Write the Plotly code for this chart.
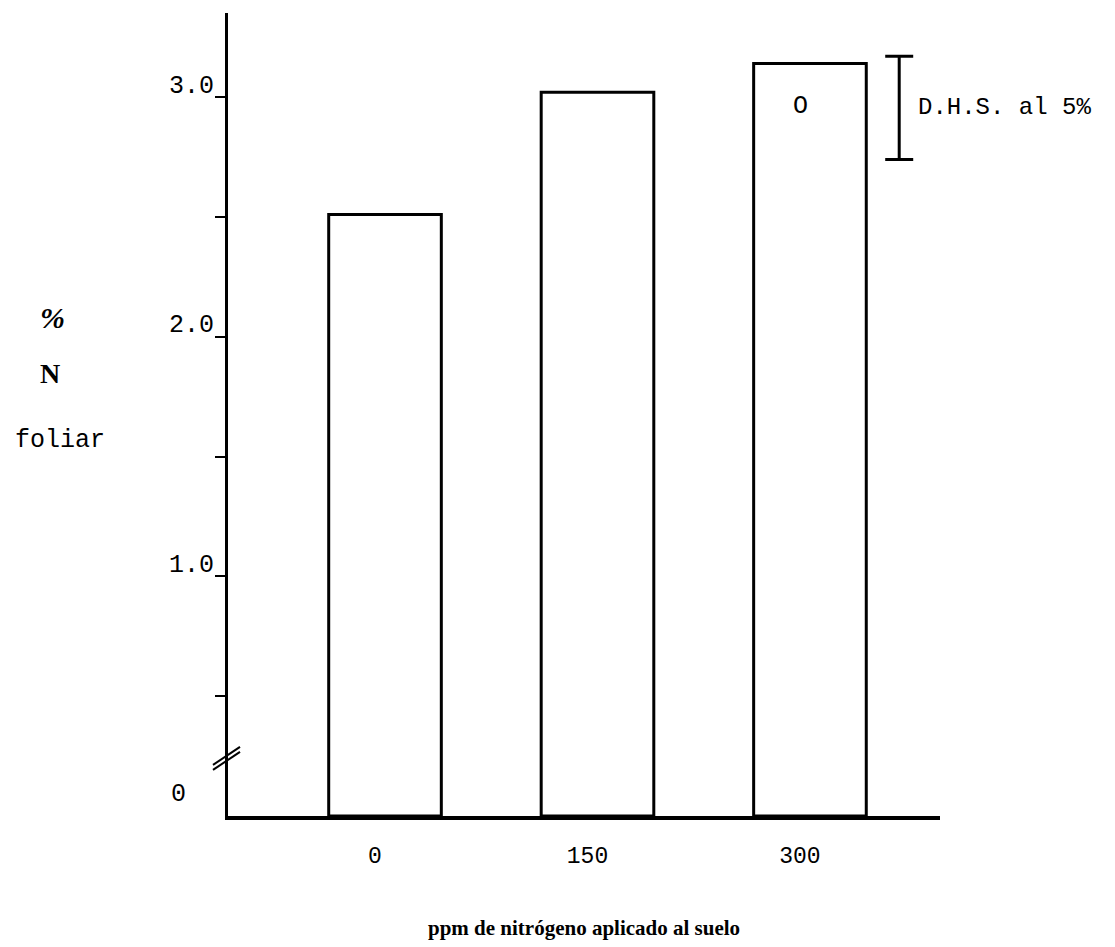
import plotly.graph_objects as go

# Data
categories = ["0", "150", "300"]
n_foliar = [2.51, 3.02, 3.14]
dhs_value = 0.43          # D.H.S. al 5%
dhs_center = 2.955
y_ticks = [0.5, 1.0, 1.5, 2.0, 2.5, 3.0]
y_ticktext = ["", "1.0", "", "2.0", "", "3.0"]

x_pos = list(range(len(categories)))
MONO = "Liberation Mono, Courier New, monospace"
SERIF = "Liberation Serif, serif"

fig = go.Figure()
fig.add_trace(go.Bar(
    x=x_pos, y=n_foliar, width=0.53,
    marker=dict(color="white", line=dict(color="black", width=3)),
    showlegend=False, hoverinfo="skip",
))
# D.H.S. bar
fig.add_trace(go.Scatter(
    x=[2.42], y=[dhs_center], mode="markers",
    marker=dict(size=1, color="rgba(0,0,0,0)"),
    error_y=dict(type="data", array=[dhs_value / 2], color="black",
                 thickness=3, width=14, visible=True),
    showlegend=False, hoverinfo="skip",
))

# page body adds an 8px offset; compensate
fig.update_layout(
    width=1107, height=939,
    margin=dict(l=220, r=175, t=5, b=131, pad=0),
    plot_bgcolor="white", paper_bgcolor="white",
    font=dict(family=MONO, color="black"),
)
fig.update_xaxes(
    range=[-0.739, 2.612], tickvals=x_pos, ticktext=categories,
    showline=True, linecolor="black", linewidth=4, showgrid=False,
    zeroline=False, ticks="", tickfont=dict(family=MONO, size=23),
    ticklabelstandoff=15, ticklabelshift=-10, automargin=False,
)
fig.update_yaxes(
    range=[0, 3.351], tickvals=y_ticks, ticktext=y_ticktext,
    showline=True, linecolor="black", linewidth=3, showgrid=False,
    zeroline=False, ticks="outside", ticklen=10, tickwidth=2, tickcolor="black",
    tickfont=dict(family=MONO, size=25), ticklabelshift=-13,
    ticklabelstandoff=-4, automargin=False,
)

annotations = [
    dict(x=0, xref="paper", y=0, yref="y", text="0", showarrow=False,
         xanchor="right", yanchor="middle", xshift=-40, yshift=22,
         font=dict(family=MONO, size=25)),
    dict(x=2.50, y=dhs_center, text="D.H.S. al 5%", showarrow=False,
         xanchor="left", yanchor="middle", font=dict(family=MONO, size=24)),
    dict(x=1.957, y=2.96, text="O", showarrow=False,
         font=dict(family=MONO, size=25)),
    dict(x=-0.247, xref="paper", y=2.08, text="<b><i>%</i></b>", showarrow=False,
         xanchor="center", font=dict(family=SERIF, size=30)),
    dict(x=-0.25, xref="paper", y=1.845, text="<b>N</b>", showarrow=False,
         xanchor="center", font=dict(family=SERIF, size=28)),
    dict(x=-0.302, xref="paper", y=1.565, text="foliar", showarrow=False,
         xanchor="left", font=dict(family=MONO, size=25)),
    dict(x=0.5, xref="paper", y=0, yref="paper", yanchor="middle",
         yshift=-112, text="<b>ppm de nitrógeno aplicado al suelo</b>",
         showarrow=False, font=dict(family=SERIF, size=21)),
]
fig.update_layout(annotations=annotations)

# axis break marks
for off in (0, 5):
    fig.add_shape(type="line", xref="paper", yref="y",
                  xsizemode="pixel", ysizemode="pixel",
                  xanchor=0, yanchor=0.23,
                  x0=-15, x1=12, y0=-9 + off, y1=9 + off,
                  line=dict(color="black", width=2))

fig.write_html("out.html")
